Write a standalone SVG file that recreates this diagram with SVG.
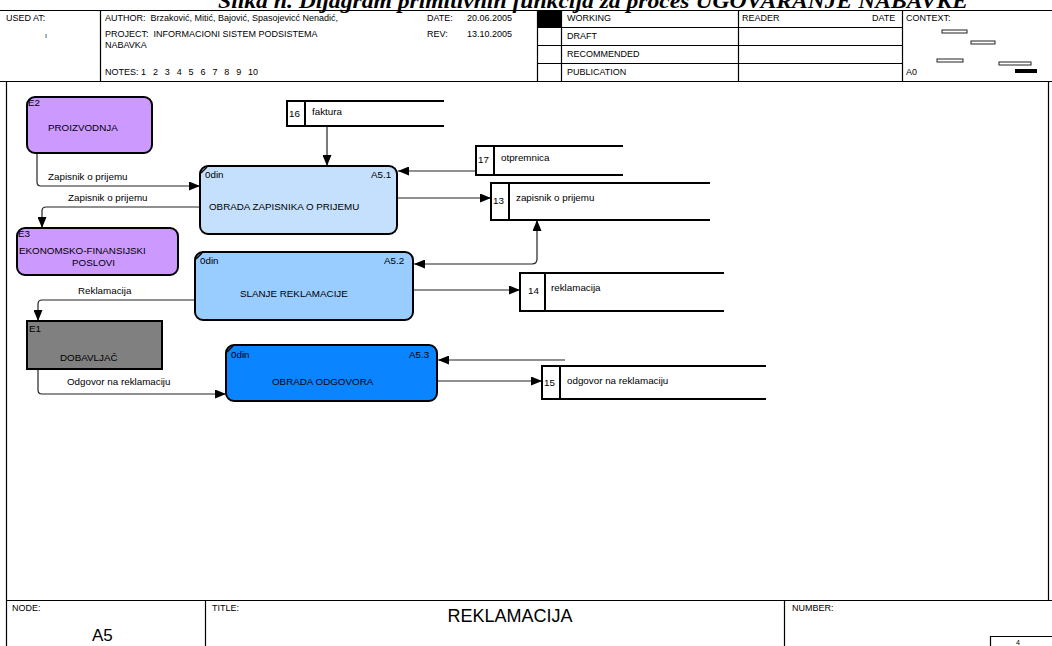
<svg xmlns="http://www.w3.org/2000/svg" width="1052" height="646" viewBox="0 0 1052 646">
  <style>
    text { font-family: "Liberation Sans", Arial, sans-serif; font-size: 9px; fill: #000; white-space: pre; }
    .b { font-size: 9.8px; }
    .title { font-family: "Liberation Serif", "Times New Roman", serif; font-size: 21px; font-weight: bold; font-style: italic; }
    .frame { fill: none; stroke: #000; stroke-width: 1.2; }
    .ctx { fill: #fff; stroke: #222; stroke-width: 1; }
    .ext { stroke: #000; stroke-width: 2; }
    .purple { fill: #CC99FF; }
    .proc { stroke: #000; stroke-width: 2; }
    .store { fill: none; stroke: #000; stroke-width: 2; }
    .flow { fill: none; stroke: #222; stroke-width: 1.2; marker-end: url(#arrow); }
    .corner { stroke: #000; stroke-width: 1.5; }
    .big { font-size: 18px; }
  </style>
  <defs>
    <marker id="arrow" markerUnits="userSpaceOnUse" markerWidth="11" markerHeight="9" refX="11" refY="4.5" orient="auto-start-reverse">
      <path d="M0,0 L11,4.5 L0,9 z" fill="#000"/>
    </marker>
  </defs>

  <rect width="1052" height="646" fill="#fff"/>

  <!-- page heading, partly cut by the top edge -->
  <text class="title" x="218" y="8" textLength="750" lengthAdjust="spacingAndGlyphs">Slika n. Dijagram primitivnih funkcija za proces UGOVARANJE NABAVKE</text>

  <!-- header block -->
  <g id="header">
    <path class="frame" d="M0,10.5 H1052 M0,81.5 H1052 M100.5,10 V81 M537.5,10 V81 M561.5,10 V81 M738.5,10 V81 M902.5,10 V81 M537,27.5 H902 M537,45.5 H902 M537,63.5 H902"/>
    <rect x="537" y="10" width="24" height="17" fill="#000"/>
    <text x="6" y="21">USED AT:</text>
    <text x="45" y="38" style="font-size:7px">ı</text>
    <text x="105" y="21">AUTHOR:  Brzaković, Mitić, Bajović, Spasojevicć Nenadić,</text>
    <text x="105" y="37">PROJECT:  INFORMACIONI SISTEM PODSISTEMA</text>
    <text x="105" y="48">NABAVKA</text>
    <text x="105" y="75">NOTES:<tspan x="141">1</tspan><tspan x="152.9">2</tspan><tspan x="164.8">3</tspan><tspan x="176.7">4</tspan><tspan x="188.6">5</tspan><tspan x="200.5">6</tspan><tspan x="212.4">7</tspan><tspan x="224.3">8</tspan><tspan x="236.2">9</tspan><tspan x="248.1">10</tspan></text>
    <text x="427" y="21">DATE:</text>
    <text x="467" y="21">20.06.2005</text>
    <text x="427" y="37">REV:</text>
    <text x="467" y="37">13.10.2005</text>
    <text x="567" y="21">WORKING</text>
    <text x="567" y="39">DRAFT</text>
    <text x="567" y="57">RECOMMENDED</text>
    <text x="567" y="75">PUBLICATION</text>
    <text x="742" y="21">READER</text>
    <text x="872" y="21">DATE</text>
    <text x="906" y="21">CONTEXT:</text>
    <text x="906" y="75">A0</text>
    <rect class="ctx" x="942" y="30" width="25" height="3"/>
    <rect class="ctx" x="971" y="41" width="24" height="3"/>
    <rect class="ctx" x="937" y="59" width="26" height="3"/>
    <rect class="ctx" x="999" y="62" width="32" height="3"/>
    <rect x="1015" y="69" width="22" height="4" fill="#000"/>
  </g>

  <!-- drawing frame and footer -->
  <g id="footer">
    <path class="frame" d="M6.5,81 V646 M1048.5,81 V600 M6,600.5 H1052 M205.5,600 V646 M784.5,600 V646"/>
    <path class="frame" d="M990.5,646 V636.5 H1052"/>
    <text x="12" y="611">NODE:</text>
    <text x="92" y="641" style="font-size:17px">A5</text>
    <text x="212" y="611">TITLE:</text>
    <text class="big" x="510" y="622" text-anchor="middle">REKLAMACIJA</text>
    <text x="792" y="611">NUMBER:</text>
    <text x="1016" y="645" style="font-size:7px">4</text>
  </g>

  <!-- connectors -->
  <g id="connectors">
    <path class="flow" d="M327,126 V166"/>
    <path class="flow" d="M476,171 H398"/>
    <path class="flow" d="M397,198 H491"/>
    <path class="flow" d="M37,153 V182 Q37,186 41,186 H200"/>
    <path class="flow" d="M200,207 H46 Q42,207 42,211 V228"/>
    <path class="flow" d="M537,220 V259 Q537,264 532,264 H414" style="marker-start:url(#arrow)"/>
    <path class="flow" d="M413,290 H520"/>
    <path class="flow" d="M195,300 H42 Q38,300 38,304 V321"/>
    <path class="flow" d="M38,369 V390 Q38,394 42,394 H226"/>
    <path class="flow" d="M565,360 H438"/>
    <path class="flow" d="M437,381 H542"/>
    <text class="b" x="48" y="180">Zapisnik o prijemu</text>
    <text class="b" x="68" y="201">Zapisnik o prijemu</text>
    <text class="b" x="78" y="294">Reklamacija</text>
    <text class="b" x="67" y="385">Odgovor na reklamaciju</text>
  </g>

  <!-- external entities -->
  <g id="E2">
    <rect class="ext purple" x="27" y="97" width="125" height="56" rx="8"/>
    <text class="b" x="28" y="106">E2</text>
    <text class="b" x="48" y="131">PROIZVODNJA</text>
  </g>
  <g id="E3">
    <rect class="ext purple" x="17" y="228" width="161" height="47" rx="8"/>
    <text class="b" x="18" y="237">E3</text>
    <text class="b" x="19" y="254">EKONOMSKO-FINANSIJSKI</text>
    <text class="b" x="72" y="266">POSLOVI</text>
  </g>
  <g id="E1">
    <rect class="ext" x="27" y="321" width="135" height="48" fill="#808080"/>
    <text class="b" x="29" y="332">E1</text>
    <text class="b" x="60" y="361">DOBAVLJAČ</text>
  </g>

  <!-- processes -->
  <g id="A5.1">
    <rect class="proc" x="200" y="166" width="197" height="68" rx="8" fill="#C4E0FC"/>
    <line class="corner" x1="201" y1="173" x2="207" y2="167"/>
    <text class="b" x="205" y="178">0din</text>
    <text class="b" x="371" y="178">A5.1</text>
    <text class="b" x="209" y="210">OBRADA ZAPISNIKA O PRIJEMU</text>
  </g>
  <g id="A5.2">
    <rect class="proc" x="195" y="252" width="218" height="68" rx="8" fill="#99CCFF"/>
    <line class="corner" x1="196" y1="259" x2="202" y2="253"/>
    <text class="b" x="200" y="264">0din</text>
    <text class="b" x="384" y="264">A5.2</text>
    <text class="b" x="240" y="297">SLANJE REKLAMACIJE</text>
  </g>
  <g id="A5.3">
    <rect class="proc" x="226" y="345" width="211" height="56" rx="8" fill="#0A84FF"/>
    <line class="corner" x1="227" y1="352" x2="233" y2="346"/>
    <text class="b" x="231" y="358">0din</text>
    <text class="b" x="409" y="358">A5.3</text>
    <text class="b" x="272" y="385">OBRADA ODGOVORA</text>
  </g>

  <!-- data stores -->
  <g id="D16">
    <path class="store" d="M444,101 H287 V126 H444 M305,101 V126"/>
    <text class="b" x="289" y="117">16</text>
    <text class="b" x="312" y="115">faktura</text>
  </g>
  <g id="D17">
    <path class="store" d="M623,146 H476 V175 H623 M494,146 V175"/>
    <text class="b" x="478" y="163">17</text>
    <text class="b" x="501" y="161">otpremnica</text>
  </g>
  <g id="D13">
    <path class="store" d="M710,183 H491 V220 H710 M509,183 V220"/>
    <text class="b" x="493" y="204">13</text>
    <text class="b" x="516" y="201">zapisnik o prijemu</text>
  </g>
  <g id="D14">
    <path class="store" d="M724,273 H520 V311 H724 M545,273 V311"/>
    <text class="b" x="528" y="294">14</text>
    <text class="b" x="551" y="291">reklamacija</text>
  </g>
  <g id="D15">
    <path class="store" d="M766,366 H542 V399 H766 M560,366 V399"/>
    <text class="b" x="544" y="386">15</text>
    <text class="b" x="567" y="384">odgovor na reklamaciju</text>
  </g>
</svg>
